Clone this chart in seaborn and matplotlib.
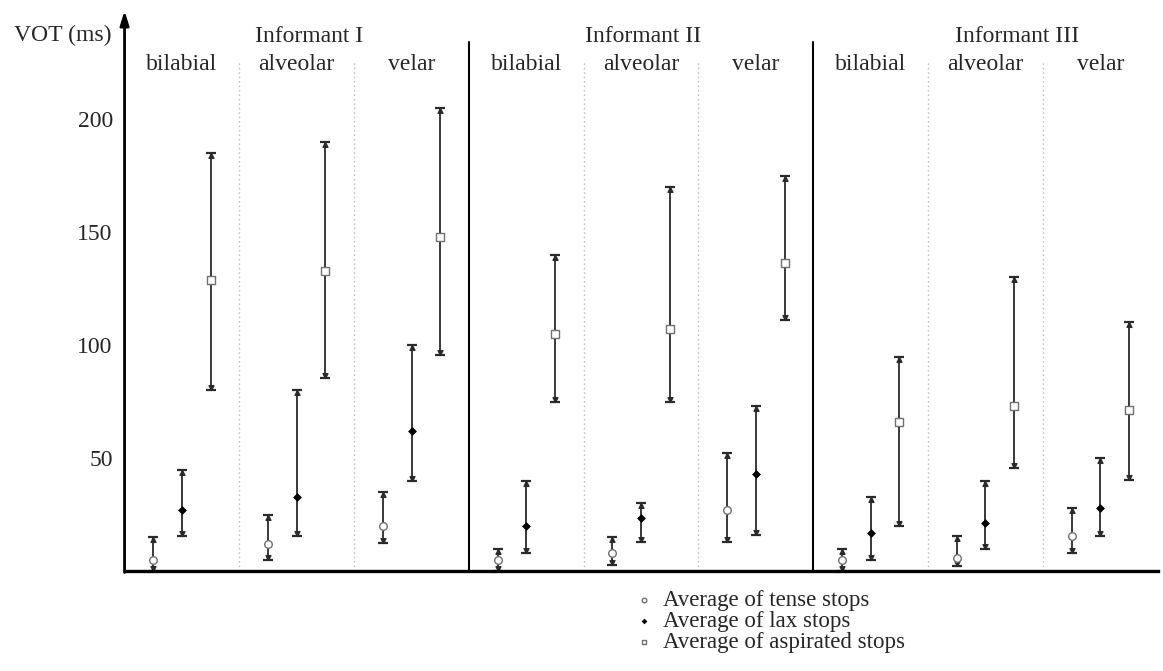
import matplotlib
matplotlib.use("Agg")
import matplotlib.pyplot as plt
from matplotlib.path import Path
import numpy as np
import pandas as pd
import seaborn as sns

# ---- data (VOT in ms) ----
informants = ["Informant I", "Informant II", "Informant III"]
places = ["bilabial", "alveolar", "velar"]
stop_labels = ["Average of tense stops", "Average of lax stops", "Average of aspirated stops"]

# order: I-bilabial, I-alveolar, I-velar, II-..., III-...
tense_mean = [5, 12, 20, 5, 8, 27, 5, 6, 15.5]
tense_min = [0, 5, 12.5, 0, 3, 13, 0, 2.5, 8]
tense_max = [15, 25, 35, 10, 15, 52.5, 10, 15.5, 28]

lax_mean = [27, 33, 62, 20, 23.5, 43, 17, 21.5, 28]
lax_min = [15.5, 15.5, 40, 8, 13, 16, 5, 10, 15.5]
lax_max = [45, 80, 100, 40, 30, 73, 33, 40, 50]

asp_mean = [129, 133, 148, 105, 107, 136.5, 66, 73, 71.5]
asp_min = [80, 85.5, 95.5, 75, 75, 111, 20, 45.5, 40.5]
asp_max = [185, 190, 205, 140, 170, 175, 95, 130, 110.5]

y_ticks = [50, 100, 150, 200]

# ---- styling ----
sns.set_theme(style="white")
plt.rcParams["font.family"] = ["Liberation Serif", "DejaVu Serif"]
FS = 17

fig = plt.figure(figsize=(11.63, 6.71), dpi=100)
ax = fig.add_axes([0.1071, 0.1486, 0.8883, 0.8353])
ax.set_xlim(-0.5, 8.5)
ax.set_ylim(0, 248)

groups = np.arange(len(informants) * len(places))
offsets = [-0.25, 0.0, 0.25]
series = [
    (tense_mean, tense_min, tense_max),
    (lax_mean, lax_min, lax_max),
    (asp_mean, asp_min, asp_max),
]

rows = []
for k, (m, lo, hi) in enumerate(series):
    for g in groups:
        rows.append(dict(kind=stop_labels[k], pos=g + offsets[k],
                         mean=m[g], low=lo[g], high=hi[g]))
df = pd.DataFrame(rows)

# arrow-tipped whisker ends: triangle with its tip at the anchor point
up_tip = Path([(-0.5, -1.0), (0.5, -1.0), (0.0, 0.0), (-0.5, -1.0)],
              [Path.MOVETO, Path.LINETO, Path.LINETO, Path.CLOSEPOLY])
down_tip = Path([(-0.5, 1.0), (0.5, 1.0), (0.0, 0.0), (-0.5, 1.0)],
                [Path.MOVETO, Path.LINETO, Path.LINETO, Path.CLOSEPOLY])

line_col = "#2a2a2a"
ax.errorbar(df["pos"], df["mean"],
            yerr=[df["mean"] - df["low"], df["high"] - df["mean"]],
            fmt="none", ecolor=line_col, elinewidth=1.3,
            capsize=3.3, capthick=1.6, zorder=2)
ax.plot(df["pos"], df["high"], linestyle="none", marker=up_tip,
        markersize=7, color=line_col, zorder=2)
ax.plot(df["pos"], df["low"], linestyle="none", marker=down_tip,
        markersize=7, color=line_col, zorder=2)

marker_styles = [
    dict(marker="o", s=30, color="white", edgecolor="#707070", linewidth=1.0),
    dict(marker="D", s=16, color="black", edgecolor="black", linewidth=0.5),
    dict(marker="s", s=28, color="white", edgecolor="#707070", linewidth=1.0),
]
for k, lab in enumerate(stop_labels):
    sub = df[df["kind"] == lab]
    sns.scatterplot(data=sub, x="pos", y="mean", ax=ax, zorder=3,
                    label=lab, legend=False, **marker_styles[k])

# group separators
for b in [2.5, 5.5]:
    ax.plot([b, b], [0, 234], color="black", lw=1.5, zorder=1)
for b in [0.5, 1.5, 3.5, 4.5, 6.5, 7.5]:
    ax.plot([b, b], [0, 226], color="#b8b8b8", lw=1.0,
            linestyle=(0, (1, 2.2)), zorder=1)

# header labels
inf_x = [1.106, 4.016, 7.28]
for name, xp in zip(informants, inf_x):
    ax.text(xp, 234.2, name, ha="center", va="baseline", fontsize=FS,
            clip_on=False)
for g in groups:
    ax.text(g, 221.8, places[g % 3], ha="center", va="baseline",
            fontsize=FS, clip_on=False)
ax.text(-0.61, 234.6, "VOT (ms)", ha="right", va="baseline", fontsize=FS,
        clip_on=False)

# axes
ax.set_xticks([])
ax.set_yticks(y_ticks)
ax.set_yticklabels([str(t) for t in y_ticks], fontsize=FS)
ax.tick_params(axis="y", length=0, pad=8.5)
ax.set_xlabel("")
ax.set_ylabel("")
for side in ["top", "right", "left"]:
    ax.spines[side].set_visible(False)
ax.spines["bottom"].set_linewidth(2.4)
ax.spines["bottom"].set_color("black")
ax.annotate("", xy=(0, 1.0), xytext=(0, -0.002), xycoords="axes fraction",
            arrowprops=dict(arrowstyle="-|>,head_length=0.7,head_width=0.22",
                            lw=2.0, color="black", shrinkA=0, shrinkB=0),
            annotation_clip=False)

leg = ax.legend(loc="upper left", bbox_to_anchor=(0.4935, -0.034),
                frameon=False, fontsize=16.5, markerscale=0.6,
                handlelength=0.8, handletextpad=0.45, labelspacing=0.0,
                borderpad=0, borderaxespad=0, scatterpoints=1)

fig.savefig("out.png", dpi=100, facecolor="white")
